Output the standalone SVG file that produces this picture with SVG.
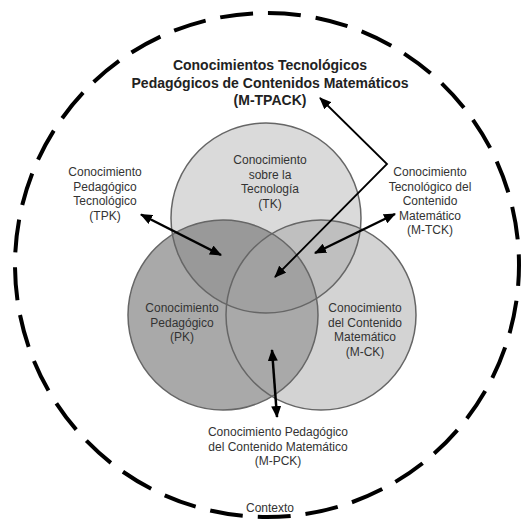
<svg xmlns="http://www.w3.org/2000/svg" width="521" height="519" viewBox="0 0 521 519">
<style>
.lbl{font-family:"Liberation Sans",Arial,sans-serif;font-size:12px;fill:#333;text-anchor:middle}
.ttl{font-family:"Liberation Sans",Arial,sans-serif;font-size:14px;font-weight:bold;fill:#222;text-anchor:middle}
.ring{fill:none;stroke:#666;stroke-width:1.5}
.arr{fill:none;stroke:#000;stroke-width:2.5;marker-start:url(#ah);marker-end:url(#ah)}
</style>
<defs>
<marker id="ah" markerUnits="userSpaceOnUse" markerWidth="13" markerHeight="10" refX="11" refY="5" orient="auto-start-reverse">
<path d="M0,0 L12,5 L0,10 z" fill="#000"/>
</marker>
<marker id="ah2" markerUnits="userSpaceOnUse" markerWidth="13" markerHeight="10" refX="11" refY="5" orient="auto">
<path d="M0,0 L12,5 L0,10 z" fill="#000"/>
</marker>
<clipPath id="cTK"><circle cx="266" cy="218" r="95"/></clipPath>
<clipPath id="cPK"><circle cx="223" cy="315" r="95"/></clipPath>
<clipPath id="cCK"><circle cx="321" cy="315" r="95"/></clipPath>
</defs>
<rect width="521" height="519" fill="#fff"/>
<circle id="context" cx="267" cy="265" r="252" fill="none" stroke="#000" stroke-width="4" stroke-dasharray="33 15" stroke-dashoffset="12"/>

<g id="venn-fills">
<circle cx="266" cy="218" r="95" fill="#dadada"/>
<circle cx="223" cy="315" r="95" fill="#a9a9a9"/>
<circle cx="321" cy="315" r="95" fill="#d3d3d3"/>
<circle cx="223" cy="315" r="95" fill="#999" clip-path="url(#cTK)"/>
<circle cx="321" cy="315" r="95" fill="#bfbfbf" clip-path="url(#cTK)"/>
<circle cx="321" cy="315" r="95" fill="#a9a9a9" clip-path="url(#cPK)"/>
<g clip-path="url(#cTK)"><circle cx="321" cy="315" r="95" fill="#a1a1a1" clip-path="url(#cPK)"/></g>
</g>

<g id="TK"><circle class="ring" cx="266" cy="218" r="95"/>
<text class="lbl" x="270" y="164">Conocimiento</text>
<text class="lbl" x="270" y="178.5">sobre la</text>
<text class="lbl" x="270" y="193">Tecnología</text>
<text class="lbl" x="270" y="207.5">(TK)</text></g>

<g id="PK"><circle class="ring" cx="223" cy="315" r="95"/>
<text class="lbl" x="182" y="312">Conocimiento</text>
<text class="lbl" x="182" y="326.5">Pedagógico</text>
<text class="lbl" x="182" y="341">(PK)</text></g>

<g id="MCK"><circle class="ring" cx="321" cy="315" r="95"/>
<text class="lbl" x="365" y="312">Conocimiento</text>
<text class="lbl" x="365" y="326.5">del Contenido</text>
<text class="lbl" x="365" y="341">Matemático</text>
<text class="lbl" x="365" y="355.5">(M-CK)</text></g>

<g id="MTPACK">
<text class="ttl" x="270" y="70">Conocimientos Tecnológicos</text>
<text class="ttl" x="270" y="87.5">Pedagógicos de Contenidos Matemáticos</text>
<text class="ttl" x="270" y="105">(M-TPACK)</text></g>

<g id="TPK">
<text class="lbl" x="105" y="176">Conocimiento</text>
<text class="lbl" x="105" y="190.5">Pedagógico</text>
<text class="lbl" x="105" y="205">Tecnológico</text>
<text class="lbl" x="105" y="219.5">(TPK)</text></g>

<g id="MTCK">
<text class="lbl" x="430" y="176">Conocimiento</text>
<text class="lbl" x="430" y="190.5">Tecnológico del</text>
<text class="lbl" x="430" y="205">Contenido</text>
<text class="lbl" x="430" y="219.5">Matemático</text>
<text class="lbl" x="430" y="234">(M-TCK)</text></g>

<g id="MPCK">
<text class="lbl" x="278" y="436">Conocimiento Pedagógico</text>
<text class="lbl" x="278" y="450.5">del Contenido Matemático</text>
<text class="lbl" x="278" y="465">(M-PCK)</text></g>

<g id="contexto"><text class="lbl" x="270" y="512">Contexto</text></g>

<g id="connectors">
<path class="arr" d="M141,214.5 L221,255"/>
<path class="arr" d="M395,214 L315,253"/>
<path class="arr" d="M272,350 L277,417"/>
<path d="M320,98 L387,164 L275,277" fill="none" stroke="#000" stroke-width="1.8" marker-start="url(#ah)" marker-end="url(#ah2)"/>
</g>
</svg>
